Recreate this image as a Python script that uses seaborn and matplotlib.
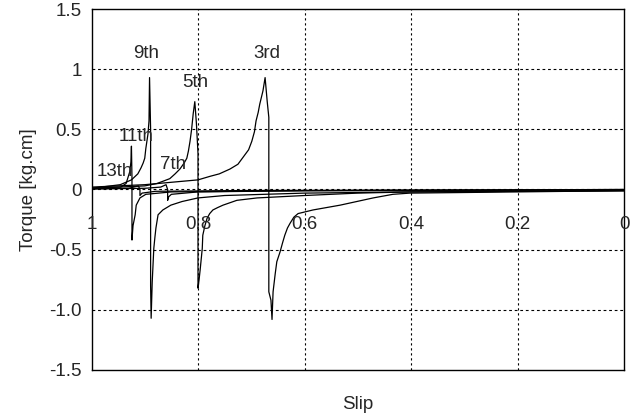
import matplotlib
matplotlib.use("Agg")
import matplotlib.pyplot as plt
import seaborn as sns

# Harmonic torque curves (slip, torque)
slip_3rd = [1.0, 0.95, 0.9, 0.85, 0.8, 0.777, 0.76, 0.74, 0.725, 0.715, 0.705, 0.699, 0.694, 0.691,
            0.687, 0.684, 0.678, 0.674, 0.670, 0.667, 0.667, 0.663, 0.661, 0.659, 0.655, 0.652, 0.646,
            0.641, 0.637, 0.632, 0.627, 0.620, 0.612, 0.584, 0.533, 0.471, 0.434, 0.402, 0.3, 0.2, 0.1, 0.0]
torque_3rd = [0.02, 0.03, 0.04, 0.06, 0.08, 0.11, 0.13, 0.17, 0.21, 0.27, 0.33, 0.40, 0.48, 0.57,
              0.64, 0.71, 0.82, 0.93, 0.73, 0.60, -0.85, -0.92, -1.08, -0.85, -0.70, -0.60, -0.52,
              -0.44, -0.38, -0.32, -0.28, -0.23, -0.20, -0.17, -0.13, -0.07, -0.04, -0.03, -0.025, -0.02, -0.015, -0.01]

slip_5th = [1.0, 0.95, 0.9, 0.877, 0.865, 0.853, 0.843, 0.834, 0.826, 0.821, 0.818, 0.815, 0.812, 0.809,
            0.806, 0.803, 0.800, 0.800, 0.798, 0.796, 0.792, 0.791, 0.787, 0.783, 0.778, 0.772, 0.763,
            0.753, 0.727, 0.689, 0.6, 0.5, 0.4, 0.2, 0.0]
torque_5th = [0.01, 0.02, 0.03, 0.05, 0.07, 0.09, 0.13, 0.17, 0.22, 0.26, 0.32, 0.40, 0.50, 0.63,
              0.73, 0.55, 0.30, -0.82, -0.75, -0.67, -0.49, -0.38, -0.30, -0.24, -0.20, -0.17, -0.15,
              -0.13, -0.09, -0.07, -0.05, -0.03, -0.02, -0.015, -0.01]

slip_7th = [1.0, 0.9, 0.87, 0.86, 0.857, 0.857, 0.855, 0.85, 0.8, 0.6, 0.0]
torque_7th = [0.005, 0.01, 0.02, 0.04, 0.0, -0.09, -0.06, -0.04, -0.02, -0.01, 0.0]

slip_9th = [1.0, 0.946, 0.925, 0.913, 0.907, 0.903, 0.9, 0.898, 0.894, 0.892, 0.891, 0.889, 0.889, 0.888,
            0.886, 0.883, 0.881, 0.879, 0.875, 0.866, 0.851, 0.83, 0.8, 0.75, 0.6, 0.4, 0.0]
torque_9th = [0.01, 0.04, 0.08, 0.13, 0.18, 0.22, 0.26, 0.34, 0.46, 0.57, 0.93, 0.5, -0.8, -1.07,
              -0.77, -0.49, -0.40, -0.32, -0.21, -0.17, -0.13, -0.10, -0.07, -0.05, -0.03, -0.02, -0.01]

slip_11th = [1.0, 0.93, 0.912, 0.909, 0.909, 0.905, 0.88, 0.7, 0.0]
torque_11th = [0.005, 0.01, 0.03, 0.0, -0.05, -0.03, -0.015, -0.008, 0.0]

slip_13th = [1.0, 0.95, 0.945, 0.935, 0.928, 0.926, 0.925, 0.924, 0.924, 0.922, 0.918, 0.916,
             0.909, 0.898, 0.85, 0.6, 0.0]
torque_13th = [0.01, 0.02, 0.02, 0.05, 0.15, 0.23, 0.36, 0.1, -0.42, -0.30, -0.21, -0.13,
               -0.07, -0.04, -0.02, -0.01, -0.005]

curves = [(slip_3rd, torque_3rd), (slip_5th, torque_5th), (slip_7th, torque_7th),
          (slip_9th, torque_9th), (slip_11th, torque_11th), (slip_13th, torque_13th)]

# label text, slip, torque
labels = ["3rd", "5th", "7th", "9th", "11th", "13th"]
label_slip = [0.671, 0.806, 0.846, 0.897, 0.916, 0.957]
label_torque = [1.13, 0.89, 0.21, 1.13, 0.44, 0.15]

x_ticks = [1.0, 0.8, 0.6, 0.4, 0.2, 0.0]
x_tick_labels = ["1", "0.8", "0.6", "0.4", "0.2", "0"]
y_ticks = [-1.5, -1.0, -0.5, 0.0, 0.5, 1.0, 1.5]
y_tick_labels = ["-1.5", "-1.0", "-0.5", "0", "0.5", "1", "1.5"]

sns.set_style("white")
plt.rcParams['font.family'] = ['Liberation Sans', 'DejaVu Sans']

fig = plt.figure(figsize=(6.33, 4.19), dpi=100)
ax = fig.add_axes([91.5 / 633, 49 / 419, 532.5 / 633, 361 / 419])

for s, t in curves:
    sns.lineplot(x=s, y=t, sort=False, estimator=None, color='black', linewidth=0.9, ax=ax)

# grid
for xv in x_ticks[1:-1]:
    ax.axvline(xv, color='black', linestyle=(0, (2, 2.5)), linewidth=0.8, zorder=0)
for yv in y_ticks[1:-1]:
    ax.axhline(yv, color='black', linestyle=(0, (2.5, 2.5)), linewidth=0.8, zorder=0)

ax.set_xlim(1, 0)
ax.set_ylim(-1.5, 1.5)
ax.set_xticks(x_ticks)
ax.set_xticklabels([])
ax.set_yticks(y_ticks)
ax.set_yticklabels(y_tick_labels, fontsize=13.5)
ax.tick_params(length=0, pad=7)

# x tick labels sit inside the plot, just under the zero line
for xv, lab in zip(x_ticks, x_tick_labels):
    ax.text(xv, -0.29, lab, ha='center', va='center', fontsize=13.5, clip_on=False)

for lab, xs, ys in zip(labels, label_slip, label_torque):
    ax.text(xs, ys, lab, ha='center', va='center', fontsize=13.5)

for sp in ax.spines.values():
    sp.set_color('black')
    sp.set_linewidth(1.0)

ax.set_xlabel('Slip', fontsize=13.5, labelpad=12)
ax.set_ylabel('Torque [kg.cm]', fontsize=13.5, labelpad=9)

fig.savefig('out.png', dpi=100)
